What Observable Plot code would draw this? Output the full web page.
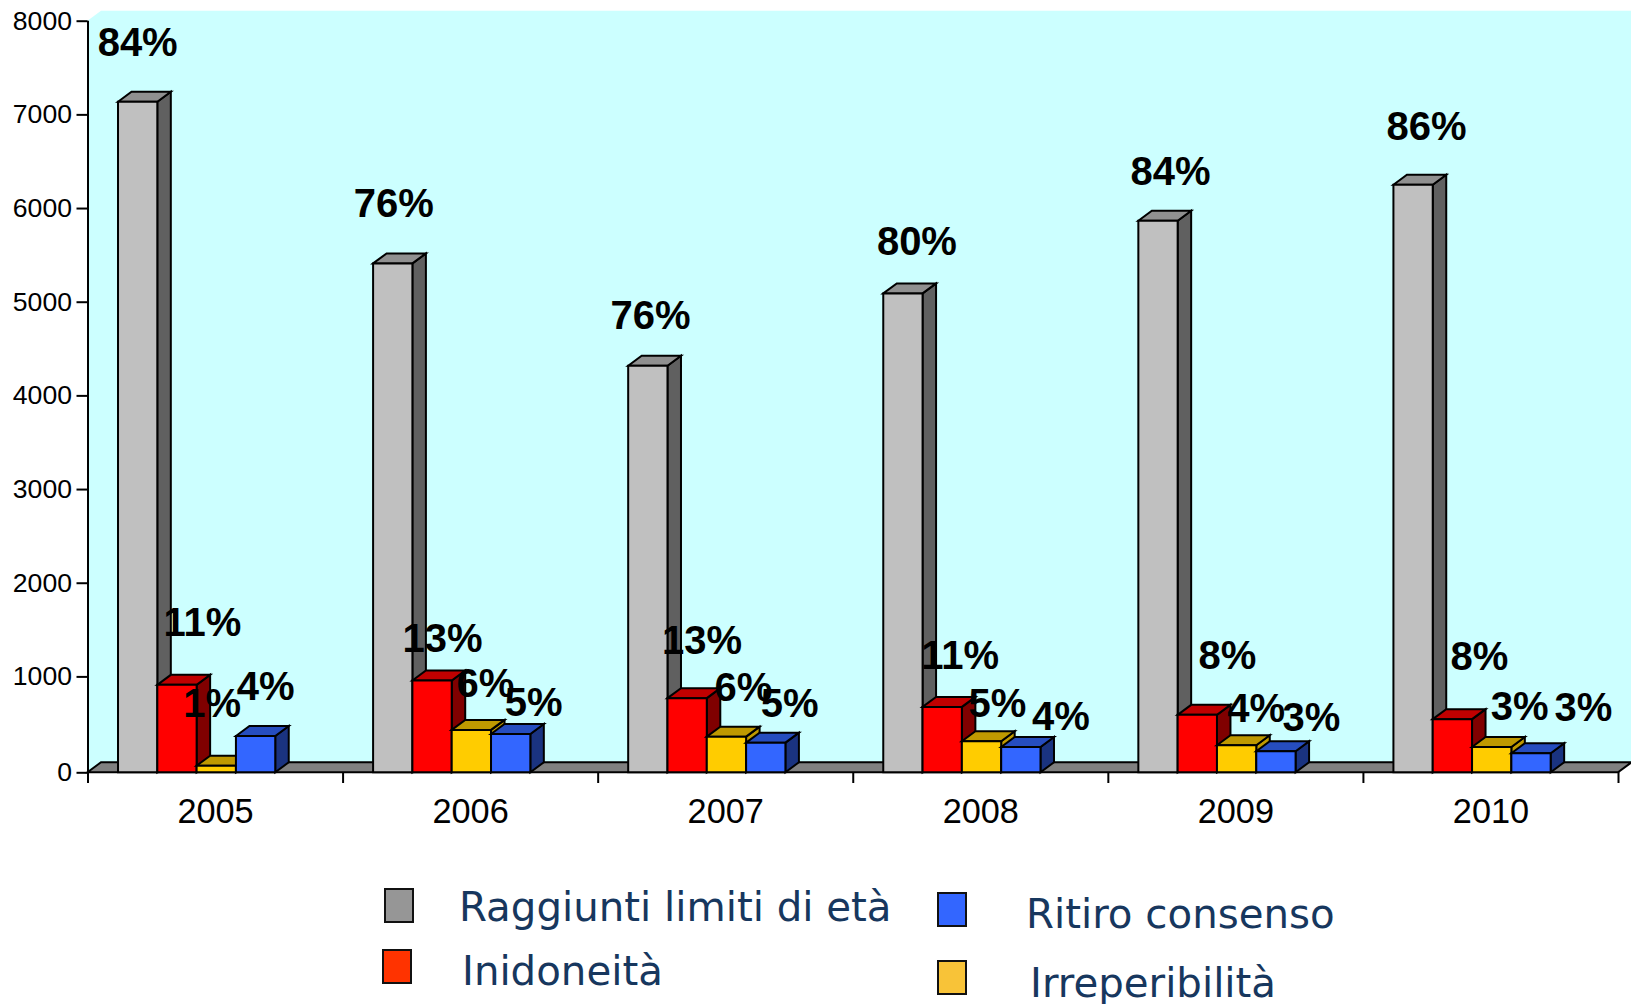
<!DOCTYPE html>
<html>
<head>
<meta charset="utf-8">
<script src="https://cdn.jsdelivr.net/npm/d3@7"></script>
<script src="https://cdn.jsdelivr.net/npm/@observablehq/plot@0.6"></script>
<style>
  html, body { margin: 0; padding: 0; background: #fff; overflow: hidden; }
  #stage { position: relative; width: 1631px; height: 1004px; }
  #stage svg { display: block; position: absolute; left: 0; top: 0; }
  .sw { position: absolute; box-sizing: border-box; width: 30px; height: 35px; border: 2.5px solid #111; }
  .lb { position: absolute; font: 40.3px "DejaVu Sans", sans-serif; color: #17375e; white-space: nowrap; line-height: 1; }
</style>
</head>
<body>
<div id="stage"></div>
<script>
// ---- values ----
const years = ["2005", "2006", "2007", "2008", "2009", "2010"];
const series = ["Raggiunti limiti di età", "Inidoneità", "Irreperibilità", "Ritiro consenso"];
const limiti         = [7134, 5409, 4316, 5089, 5864, 6248];
const inidoneita     = [912, 957, 773, 682, 599, 554];
const irreperibilita = [69, 442, 372, 324, 282, 264];
const ritiro         = [379, 400, 309, 264, 219, 199];
const pctLimiti         = ["84%", "76%", "76%", "80%", "84%", "86%"];
const pctInidoneita     = ["11%", "13%", "13%", "11%", "8%", "8%"];
const pctIrreperibilita = ["1%", "6%", "6%", "5%", "4%", "3%"];
const pctRitiro         = ["4%", "5%", "5%", "4%", "3%", "3%"];

// ---- layout, separate from the values ----
const values = [limiti, inidoneita, irreperibilita, ritiro];
const pcts = [pctLimiti, pctInidoneita, pctIrreperibilita, pctRitiro];
const palette = [
  {front: "#c0c0c0", side: "#606060", top: "#909090"},
  {front: "#ff0000", side: "#800000", top: "#c00000"},
  {front: "#ffcc00", side: "#bf9900", top: "#bf9900"},
  {front: "#3366ff", side: "#1a3380", top: "#264dbf"}
];
const depthX = 13.5, depthY = 10;
const slotStart = 0.1196, slotWidth = 0.1541;
// hand placement of each percentage, in pixels from the top centre of its bar [right, up]
const labelNudge = [
  [[0, 45], [1, 46], [2.6, 36], [14, 38], [12.5, 35], [13.4, 44]],
  [[25.5, 48], [10.5, 28], [15, 44], [18, 37], [30, 45], [27, 49]],
  [[-4, 48], [14, 32], [17, 35], [16, 24], [19.5, 23], [28, 26]],
  [[10, 35], [23, 17], [24, 25], [40, 16], [35.5, 20], [52.5, 32]]
];

const bars = [];
years.forEach((year, g) => series.forEach((name, s) => {
  bars.push({
    g, s,
    x1: g + slotStart + s * slotWidth,
    x2: g + slotStart + (s + 1) * slotWidth,
    xc: g + slotStart + (s + 0.5) * slotWidth,
    value: values[s][g],
    label: pcts[s][g],
    nudge: labelNudge[s][g]
  });
}));

const poly = pts => "M" + pts.map(p => p.join(",")).join("L") + "Z";

function renderBoxes(index, scales, v) {
  const g = d3.create("svg:g")
    .attr("stroke", "#000").attr("stroke-width", 2).attr("stroke-linejoin", "miter");
  for (const i of index) {
    const d = bars[i], c = palette[d.s];
    const l = Math.min(v.x1[i], v.x2[i]), r = Math.max(v.x1[i], v.x2[i]);
    const t = Math.min(v.y1[i], v.y2[i]), b = Math.max(v.y1[i], v.y2[i]);
    g.append("path").attr("fill", c.side)
      .attr("d", poly([[r, t], [r + depthX, t - depthY], [r + depthX, b - depthY], [r, b]]));
    g.append("path").attr("fill", c.top)
      .attr("d", poly([[l, t], [l + depthX, t - depthY], [r + depthX, t - depthY], [r, t]]));
    g.append("path").attr("fill", c.front)
      .attr("d", poly([[l, t], [r, t], [r, b], [l, b]]));
  }
  return g.node();
}

function renderLabels(index, scales, v, dims, ctx, next) {
  const g = next(index, scales, v, dims, ctx);
  const nodes = g.querySelectorAll("text");
  Array.from(index).forEach((i, j) => {
    nodes[j].setAttribute("dx", bars[i].nudge[0] - 0.5);
    nodes[j].setAttribute("dy", -bars[i].nudge[1] - 1);
  });
  return g;
}

// back wall and floor of the 3D plot area
function wallAndFloor(index, {x, y}) {
  const x0 = x(0), x1 = x(6), y0 = y(0), yTop = y(8000);
  const g = d3.create("svg:g");
  g.append("path").attr("fill", "#ccffff")
    .attr("d", poly([[x0, y0], [x0, yTop], [x0 + depthX, yTop - depthY],
                     [x1 + depthX, yTop - depthY], [x1 + depthX, y0 - depthY], [x1, y0]]));
  g.append("path").attr("fill", "#808080").attr("stroke", "#000").attr("stroke-width", 2)
    .attr("d", poly([[x0, y0], [x0 + depthX, y0 - depthY], [x1 + depthX, y0 - depthY], [x1, y0]]));
  return g.node();
}

const chart = Plot.plot({
  width: 1631,
  height: 835,
  marginLeft: 87.5,
  marginRight: 13,
  marginTop: 20.5,
  marginBottom: 63,
  style: {background: "transparent", fontFamily: "'Liberation Sans', Arial, sans-serif", color: "#000"},
  x: {domain: [0, 6]},
  // the reference's own axis has a slightly taller first step
  y: {type: "linear", domain: [0, 1000, 8000], range: [772.3, 676.4, 20.7]},
  marks: [
    wallAndFloor,
    Plot.rect(bars, {x1: "x1", x2: "x2", y1: 0, y2: "value", render: renderBoxes}),
    Plot.ruleX([0], {y1: 0, y2: 8000, stroke: "#000", strokeWidth: 2}),
    Plot.axisY({ticks: d3.range(0, 8001, 1000), tickSize: 11, tickPadding: 5, tickFormat: d => String(d),
      label: null, fontSize: 26.6, strokeWidth: 2, stroke: "#000", fill: "#000"}),
    Plot.axisX({ticks: d3.range(0, 7), tickSize: 11, tickFormat: () => "", label: null, strokeWidth: 2, stroke: "#000"}),
    Plot.axisX({ticks: years.map((_, i) => i + 0.5), tickSize: 0, tickPadding: 26,
      tickFormat: d => years[Math.floor(d)], label: null, fontSize: 34.3, fill: "#000"}),
    Plot.text(bars, {x: "xc", y: "value", text: "label", textAnchor: "middle", lineAnchor: "bottom",
      fontSize: 40, fontWeight: "bold", fill: "#000", render: renderLabels})
  ]
});

const stage = document.getElementById("stage");
stage.appendChild(chart);

// legend below the plot
const legendSwatches = [
  {name: "Raggiunti limiti di età", color: "#969696", left: 384, top: 888, tx: 459, base: 923},
  {name: "Inidoneità", color: "#ff3300", left: 382, top: 949, tx: 462, base: 987},
  {name: "Ritiro consenso", color: "#3366ff", left: 937, top: 892, tx: 1026, base: 930},
  {name: "Irreperibilità", color: "#f8c338", left: 937, top: 960, tx: 1030, base: 999}
];
for (const e of legendSwatches) {
  const s = document.createElement("div");
  s.className = "sw";
  s.style.cssText = `left:${e.left}px;top:${e.top}px;background:${e.color}`;
  stage.appendChild(s);
  const t = document.createElement("div");
  t.className = "lb";
  t.textContent = e.name;
  t.style.cssText = `left:${e.tx}px;top:${e.base - 35}px`;
  stage.appendChild(t);
}
</script>
</body>
</html>
